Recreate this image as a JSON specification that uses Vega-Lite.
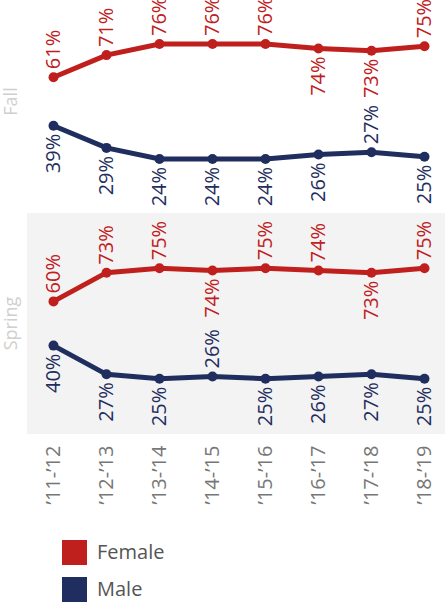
{
  "$schema": "https://vega.github.io/schema/vega-lite/v6.json",
  "padding": {"top": -9, "left": 2, "right": 0, "bottom": 0},
  "data": {
    "values": [
      {"season": "Fall", "year": "’11-’12", "gender": "Female", "share": 0.61},
      {"season": "Fall", "year": "’12-’13", "gender": "Female", "share": 0.71},
      {"season": "Fall", "year": "’13-’14", "gender": "Female", "share": 0.76},
      {"season": "Fall", "year": "’14-’15", "gender": "Female", "share": 0.76},
      {"season": "Fall", "year": "’15-’16", "gender": "Female", "share": 0.76},
      {"season": "Fall", "year": "’16-’17", "gender": "Female", "share": 0.74},
      {"season": "Fall", "year": "’17-’18", "gender": "Female", "share": 0.73},
      {"season": "Fall", "year": "’18-’19", "gender": "Female", "share": 0.75},
      {"season": "Fall", "year": "’11-’12", "gender": "Male", "share": 0.39},
      {"season": "Fall", "year": "’12-’13", "gender": "Male", "share": 0.29},
      {"season": "Fall", "year": "’13-’14", "gender": "Male", "share": 0.24},
      {"season": "Fall", "year": "’14-’15", "gender": "Male", "share": 0.24},
      {"season": "Fall", "year": "’15-’16", "gender": "Male", "share": 0.24},
      {"season": "Fall", "year": "’16-’17", "gender": "Male", "share": 0.26},
      {"season": "Fall", "year": "’17-’18", "gender": "Male", "share": 0.27},
      {"season": "Fall", "year": "’18-’19", "gender": "Male", "share": 0.25},
      {"season": "Spring", "year": "’11-’12", "gender": "Female", "share": 0.60},
      {"season": "Spring", "year": "’12-’13", "gender": "Female", "share": 0.73},
      {"season": "Spring", "year": "’13-’14", "gender": "Female", "share": 0.75},
      {"season": "Spring", "year": "’14-’15", "gender": "Female", "share": 0.74},
      {"season": "Spring", "year": "’15-’16", "gender": "Female", "share": 0.75},
      {"season": "Spring", "year": "’16-’17", "gender": "Female", "share": 0.74},
      {"season": "Spring", "year": "’17-’18", "gender": "Female", "share": 0.73},
      {"season": "Spring", "year": "’18-’19", "gender": "Female", "share": 0.75},
      {"season": "Spring", "year": "’11-’12", "gender": "Male", "share": 0.40},
      {"season": "Spring", "year": "’12-’13", "gender": "Male", "share": 0.27},
      {"season": "Spring", "year": "’13-’14", "gender": "Male", "share": 0.25},
      {"season": "Spring", "year": "’14-’15", "gender": "Male", "share": 0.26},
      {"season": "Spring", "year": "’15-’16", "gender": "Male", "share": 0.25},
      {"season": "Spring", "year": "’16-’17", "gender": "Male", "share": 0.26},
      {"season": "Spring", "year": "’17-’18", "gender": "Male", "share": 0.27},
      {"season": "Spring", "year": "’18-’19", "gender": "Male", "share": 0.25}
    ]
  },
  "facet": {
    "row": {
      "field": "season",
      "type": "nominal",
      "sort": ["Fall", "Spring"],
      "header": {
        "title": null,
        "labelAngle": -90,
        "labelFont": "Open Sans",
        "labelFontSize": 18,
        "labelColor": "#cfcfcf",
        "labelPadding": -3
      }
    }
  },
  "spacing": 1,
  "spec": {
    "width": 424,
    "height": 221,
    "encoding": {
      "x": {
        "field": "year",
        "type": "ordinal",
        "scale": {"type": "point", "padding": 0.5},
        "axis": {
          "title": null,
          "labelAngle": -90,
          "labelFont": "Open Sans",
          "labelFontSize": 20,
          "labelColor": "#777777",
          "ticks": false,
          "domain": false,
          "labelPadding": 11
        }
      }
    },
    "layer": [
      {
        "transform": [
          {"filter": "datum.season === 'Spring'"},
          {"aggregate": [{"op": "count", "as": "n"}], "groupby": ["season"]}
        ],
        "mark": {"type": "rect", "color": "#f3f3f3"},
        "encoding": {
          "x": null,
          "y": {"datum": 0, "type": "quantitative", "scale": {"domain": [0, 1]}, "axis": null},
          "y2": {"datum": 1}
        }
      },
      {
        "mark": {"type": "line", "strokeWidth": 5},
        "encoding": {
          "y": {"field": "share", "type": "quantitative", "scale": {"domain": [0, 1]}, "axis": null},
          "color": {
            "field": "gender",
            "type": "nominal",
            "scale": {"domain": ["Female", "Male"], "range": ["#c0201d", "#1f2e5e"]},
            "legend": {
              "title": null,
              "orient": "none",
              "legendX": 35,
              "legendY": 549,
              "symbolType": "square",
              "symbolSize": 625,
              "symbolStrokeWidth": 0,
              "symbolOpacity": 1,
              "labelFont": "Open Sans",
              "labelFontSize": 20,
              "labelColor": "#555555",
              "labelOffset": 10,
              "rowPadding": 12
            }
          }
        }
      },
      {
        "mark": {"type": "point", "filled": true, "size": 100, "opacity": 1},
        "encoding": {
          "y": {"field": "share", "type": "quantitative"},
          "color": {"field": "gender", "type": "nominal"}
        }
      },
      {
        "transform": [
          {"filter": "(datum.gender === 'Female') !== ((datum.season === 'Fall' && datum.gender === 'Female' && indexof(['’16-’17','’17-’18'], datum.year) >= 0) || (datum.season === 'Fall' && datum.gender === 'Male' && datum.year === '’17-’18') || (datum.season === 'Spring' && datum.gender === 'Female' && indexof(['’14-’15','’17-’18'], datum.year) >= 0) || (datum.season === 'Spring' && datum.gender === 'Male' && datum.year === '’14-’15'))"}
        ],
        "mark": {"type": "text", "angle": -90, "align": "left", "baseline": "middle", "dx": 8, "font": "Open Sans", "fontSize": 20},
        "encoding": {
          "y": {"field": "share", "type": "quantitative"},
          "text": {"field": "share", "type": "quantitative", "format": ".0%"},
          "color": {"field": "gender", "type": "nominal"}
        }
      },
      {
        "transform": [
          {"filter": "!((datum.gender === 'Female') !== ((datum.season === 'Fall' && datum.gender === 'Female' && indexof(['’16-’17','’17-’18'], datum.year) >= 0) || (datum.season === 'Fall' && datum.gender === 'Male' && datum.year === '’17-’18') || (datum.season === 'Spring' && datum.gender === 'Female' && indexof(['’14-’15','’17-’18'], datum.year) >= 0) || (datum.season === 'Spring' && datum.gender === 'Male' && datum.year === '’14-’15')))"}
        ],
        "mark": {"type": "text", "angle": -90, "align": "right", "baseline": "middle", "dx": -8, "font": "Open Sans", "fontSize": 20},
        "encoding": {
          "y": {"field": "share", "type": "quantitative"},
          "text": {"field": "share", "type": "quantitative", "format": ".0%"},
          "color": {"field": "gender", "type": "nominal"}
        }
      }
    ]
  },
  "config": {
    "view": {"stroke": null}
  }
}
